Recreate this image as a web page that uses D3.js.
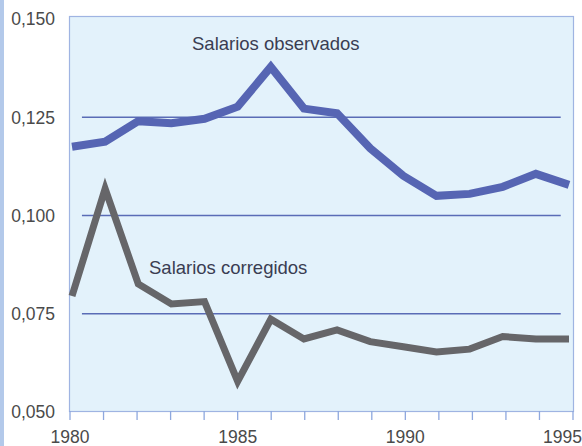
<!DOCTYPE html>
<html>
<head>
<meta charset="utf-8">
<script src="https://cdn.jsdelivr.net/npm/d3@7"></script>
<style>
  body { margin: 0; background: #fff; }
  svg { display: block; }
</style>
</head>
<body>
<div id="chart"></div>
<script>
// data
const years = [1980, 1981, 1982, 1983, 1984, 1985, 1986, 1987, 1988, 1989, 1990, 1991, 1992, 1993, 1994, 1995];
const observados = [0.1175, 0.1188, 0.1240, 0.1235, 0.1246, 0.1277, 0.1378, 0.1272, 0.1260, 0.1171, 0.1101, 0.1050, 0.1055, 0.1073, 0.1106, 0.1078];
const corregidos = [0.0795, 0.1068, 0.0826, 0.0775, 0.0781, 0.0578, 0.0736, 0.0686, 0.0709, 0.0679, 0.0666, 0.0653, 0.0660, 0.0692, 0.0686, 0.0686];
const yTicks = [0.050, 0.075, 0.100, 0.125, 0.150];
const gridTicks = [0.075, 0.100, 0.125];
const xLabels = [1980, 1985, 1990, 1995];

const w = 582, h = 446;
const box = { left: 69, right: 573, top: 16, bottom: 411 };

const svg = d3.select("#chart")
    .append("svg")
    .attr("width", w)
    .attr("height", h);

// left blue edge of the scan
svg.append("rect")
    .attr("x", 0).attr("y", 0)
    .attr("width", 4).attr("height", h)
    .attr("fill", "#b3c9ea");

//scales
const x = d3.scaleLinear().domain([1980, 1995]).range([box.left, box.right - 1]);
const xLine = d3.scaleLinear().domain([1980, 1995]).range([box.left + 3, box.right - 4]);
const y = d3.scaleLinear().domain([0.05, 0.15]).range([412, 19]);

//plot background
svg.append("rect")
    .attr("x", box.left + 0.5)
    .attr("y", box.top + 0.5)
    .attr("width", box.right - box.left)
    .attr("height", box.bottom - box.top)
    .attr("fill", "#e3f2fb")
    .attr("stroke", "#9fb4e2")
    .attr("stroke-width", 1.2);

// grid lines
svg.append("g")
    .selectAll("line")
    .data(gridTicks)
    .join("line")
    .attr("x1", xLine(1980.3))
    .attr("x2", xLine(1994.75))
    .attr("y1", d => y(d))
    .attr("y2", d => y(d))
    .attr("stroke", "#5a6cb6")
    .attr("stroke-width", 1.4);

// x axis
const xaxis = d3.axisBottom(x)
    .tickValues(years)
    .tickSize(9)
    .tickSizeOuter(0)
    .tickFormat(d => xLabels.includes(d) ? d : "");
const xgrp = svg.append("g")
    .attr("transform", `translate(0.5,${box.bottom})`)
    .call(xaxis);
xgrp.select(".domain").remove();
xgrp.selectAll("line").attr("stroke", "#8ea8de").attr("stroke-width", 1.3);
xgrp.selectAll("text")
    .attr("font-family", "Liberation Sans, Arial, sans-serif")
    .attr("font-size", "17.5px")
    .attr("fill", "#4a4a4a")
    .attr("y", 20)
    .attr("dy", "0.71em")
    .attr("text-anchor", d => d === 1995 ? "end" : "middle")
    .attr("dx", d => d === 1995 ? 9 : 0);

// y labels
svg.append("g")
    .selectAll("text")
    .data(yTicks)
    .join("text")
    .text(d => d3.format(".3f")(d).replace(".", ","))
    .attr("x", 55)
    .attr("y", d => y(d))
    .attr("dy", "0.36em")
    .attr("text-anchor", "end")
    .attr("font-family", "Liberation Sans, Arial, sans-serif")
    .attr("font-size", "17.5px")
    .attr("fill", "#4a4a4a");

// lines
const line = d3.line()
    .x((d, i) => xLine(years[i]))
    .y(d => y(d));

svg.append("path")
    .datum(corregidos)
    .attr("d", line)
    .attr("fill", "none")
    .attr("stroke", "#666669")
    .attr("stroke-width", 7)
    .attr("stroke-linejoin", "miter");

svg.append("path")
    .datum(observados)
    .attr("d", line)
    .attr("fill", "none")
    .attr("stroke", "#5665b3")
    .attr("stroke-width", 8)
    .attr("stroke-linejoin", "miter");

// series labels
svg.append("text")
    .text("Salarios observados")
    .attr("x", 192)
    .attr("y", 50)
    .attr("font-family", "Liberation Sans, Arial, sans-serif")
    .attr("font-size", "18.5px")
    .attr("fill", "#3a3d52");

svg.append("text")
    .text("Salarios corregidos")
    .attr("x", 149)
    .attr("y", 274)
    .attr("font-family", "Liberation Sans, Arial, sans-serif")
    .attr("font-size", "18.5px")
    .attr("fill", "#3a3d52");
</script>
</body>
</html>
